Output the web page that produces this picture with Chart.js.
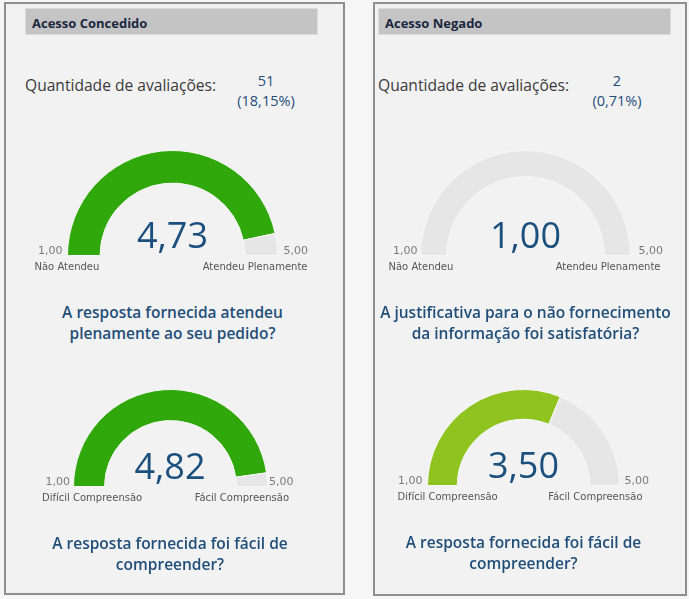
<!DOCTYPE html>
<html>
<head>
<meta charset="utf-8">
<script src="https://cdn.jsdelivr.net/npm/chart.js@4.4.1/dist/chart.umd.min.js"></script>
<style>
    html, body {
        margin: 0;
        padding: 0;
        background: #f6f6f6;
        width: 689px;
        height: 599px;
        overflow: hidden;
        font-family: "Open Sans", "Noto Sans", sans-serif;
    }
    .abs { position: absolute; white-space: nowrap; }
    .panel {
        position: absolute;
        background: #f2f2f2;
        border: 2px solid #8e8e8e;
        box-sizing: border-box;
    }
    .header {
        position: absolute;
        background: #c4c4c4;
        border: 1px solid #dcdcdc;
        box-sizing: border-box;
        font-weight: 700;
        font-size: 13px;
        color: #1b2841;
        line-height: 28px;
        padding-left: 6px;
    }
    .count-label { font-size: 15.6px; color: #3a3a3a; }
    .count { font-size: 14.5px; line-height: 20px; color: #1f4e79; text-align: center; }
    .value { font-size: 36px; color: #1b4f7d; transform: translate(-50%, -50%); }
    .small { font-family: "DejaVu Sans", sans-serif; font-size: 10px; color: #555; }
    .num { font-family: "DejaVu Sans", sans-serif; font-size: 11px; color: #7a7a7a; }
    .question {
        font-size: 15.5px;
        font-weight: 600;
        color: #1f4e79;
        text-align: center;
        line-height: 21px;
        transform: translateX(-50%);
    }
</style>
</head>
<body>
<script>
// panel data
const panelTitles = ["Acesso Concedido", "Acesso Negado"];
const evalCounts = ["51", "2"];
const evalPercents = ["(18,15%)", "(0,71%)"];

// gauge data (left top, left bottom, right top, right bottom)
const gaugeMin = 1;
const gaugeMax = 5;
const gaugeValues = [4.73, 4.82, 1.0, 3.5];
const gaugeMinLabels = ["Não Atendeu", "Difícil Compreensão", "Não Atendeu", "Difícil Compreensão"];
const gaugeMaxLabels = ["Atendeu Plenamente", "Fácil Compreensão", "Atendeu Plenamente", "Fácil Compreensão"];
const gaugeQuestions = [
    ["A resposta fornecida atendeu", "plenamente ao seu pedido?"],
    ["A resposta fornecida foi fácil de", "compreender?"],
    ["A justificativa para o não fornecimento", "da informação foi satisfatória?"],
    ["A resposta fornecida foi fácil de", "compreender?"],
];

// layout
const panels = [
    { x: 4, y: 2, w: 341, h: 593, hx: 25, hw: 293 },
    { x: 373, y: 2, w: 314, h: 594, hx: 378, hw: 293 },
];
const gauges = [
    { cx: 172.5, base: 255, r: 105, cut: "69%", capL: 33, capR: 30, numL: 5, numR: 6 },
    { cx: 170, base: 486, r: 97, cut: "68%", capL: 31, capR: 22, numL: 3, numR: 2 },
    { cx: 525.5, base: 255, r: 105, cut: "75%", capL: 32, capR: 30, numL: 3, numR: 8 },
    { cx: 523.5, base: 485, r: 96, cut: "69%", capL: 30, capR: 23, numL: 5, numR: 5 },
];

function fmt(v) {
    return v.toFixed(2).replace(".", ",");
}

function gaugeColor(v) {
    return v >= 4 ? "#30a80b" : "#8fc31f";
}

function el(cls, text, x, y, extra) {
    const d = document.createElement("div");
    d.className = cls;
    d.textContent = text;
    d.style.left = x + "px";
    d.style.top = y + "px";
    if (extra) Object.assign(d.style, extra);
    document.body.appendChild(d);
    return d;
}

panels.forEach((p, i) => {
    const d = document.createElement("div");
    d.className = "panel";
    Object.assign(d.style, { left: p.x + "px", top: p.y + "px", width: p.w + "px", height: p.h + "px" });
    document.body.appendChild(d);

    el("header", panelTitles[i], p.hx, 8, { width: p.hw + "px", height: "27px" });

    const lx = i === 0 ? 25 : 378;
    const cx = i === 0 ? 266 : 617;
    el("abs count-label", "Quantidade de avaliações:", lx, 74);
    el("abs count", evalCounts[i], cx - 40, 71, { width: "80px" });
    el("abs count", evalPercents[i], cx - 40, 91, { width: "80px" });
});

gauges.forEach((g, i) => {
    const v = gaugeValues[i];
    const canvas = document.createElement("canvas");
    canvas.width = 2 * g.r + 1;
    canvas.height = g.r + 1;
    canvas.style.position = "absolute";
    canvas.style.left = g.cx - g.r - 0.5 + "px";
    canvas.style.top = g.base - g.r - 0.5 + "px";
    document.body.appendChild(canvas);

    new Chart(canvas.getContext("2d"), {
        type: "doughnut",
        data: {
            labels: ["valor", "restante"],
            datasets: [
                {
                    data: [v - gaugeMin, gaugeMax - v],
                    backgroundColor: [gaugeColor(v), "#e6e6e6"],
                    borderColor: "#f7f7f7",
                    borderWidth: 1,
                },
            ],
        },
        options: {
            responsive: false,
            animation: false,
            events: [],
            rotation: -90,
            circumference: 180,
            cutout: g.cut,
            plugins: {
                legend: { display: false },
                tooltip: { enabled: false },
            },
        },
    });

    // centre value
    el("abs value", fmt(v), g.cx, g.base - 21);

    // end labels
    const left = g.cx - g.r;
    const right = g.cx + g.r;
    const minNum = el("abs num", fmt(gaugeMin), left - g.numL, g.base - 11);
    minNum.style.transform = "translateX(-100%)";
    el("abs num", fmt(gaugeMax), right + g.numR, g.base - 11);
    el("abs small", gaugeMinLabels[i], left - g.capL, g.base + 6);
    const maxCap = el("abs small", gaugeMaxLabels[i], right + g.capR, g.base + 6);
    maxCap.style.transform = "translateX(-100%)";

    // question
    const q = el("abs question", "", g.cx, g.base + 47);
    q.innerHTML = gaugeQuestions[i].join("<br>");
});
</script>
</body>
</html>
